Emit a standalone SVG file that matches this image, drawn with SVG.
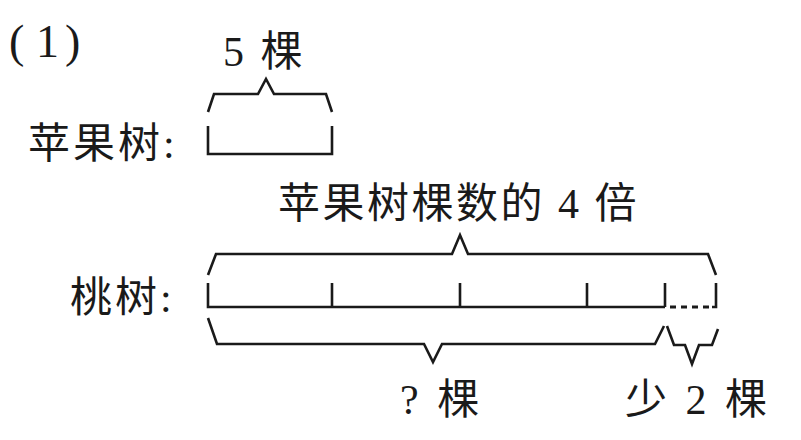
<svg xmlns="http://www.w3.org/2000/svg" width="801" height="440" viewBox="0 0 801 440">
<style>
.t{font-family:"Liberation Serif","Noto Sans CJK SC",serif;font-size:42px;fill:#1a1a1a}
.p{font-family:"Liberation Serif",serif;font-size:46px;fill:#1a1a1a}
.l{fill:none;stroke:#1a1a1a;stroke-width:2.6;stroke-linejoin:miter}
.d{fill:none;stroke:#1a1a1a;stroke-width:3;stroke-dasharray:6,5}
</style>
<rect width="801" height="440" fill="#fff"/>
<text class="p" x="9" y="57">(</text>
<text class="p" x="36" y="57">1</text>
<text class="p" x="65" y="57">)</text>
<g id="apple">
<text class="t" x="28" y="158" letter-spacing="3">苹果树:</text>
<path class="l" d="M208,126 V154 H332 V126"/>
</g>
<g id="apple-brace">
<path class="l" d="M208,112 L214,94 H258 L266,79 L274,94 H326 L332,112"/>
<text class="t" x="223" y="66" letter-spacing="3">5 棵</text>
</g>
<g id="peach">
<text class="t" x="70" y="312" letter-spacing="3">桃树:</text>
<path class="l" d="M208,283 V307 H665"/>
<path class="l" d="M332,283 V307 M460,283 V307 M587,283 V307 M665,283 V307"/>
<path class="d" d="M670,307 H712"/>
<path class="l" d="M716,283 V307 H712"/>
</g>
<g id="total-brace">
<path class="l" d="M208,275 L216,254 H452 L460,235 L468,254 H708 L716,275"/>
<text class="t" x="278" y="218" letter-spacing="2.5">苹果树棵数的 4 倍</text>
</g>
<g id="unknown-brace">
<path class="l" d="M208,318 L217,344 H424 L433,362 L442,344 H655 L664,326"/>
<text class="t" x="400" y="414" letter-spacing="4">? 棵</text>
</g>
<g id="less-brace">
<path class="l" d="M667,326 L674,345 H685 L692,364 L699,345 H712 L718,329"/>
<text class="t" x="625" y="414" letter-spacing="4">少 2 棵</text>
</g>
</svg>
